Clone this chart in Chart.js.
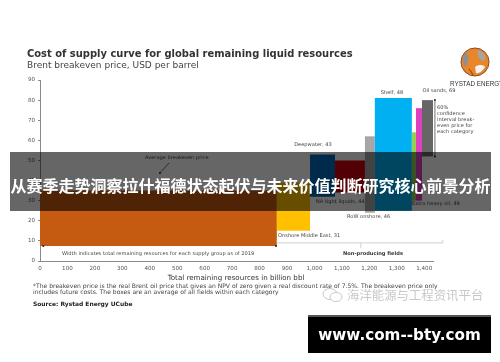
<!DOCTYPE html>
<html lang="en">
<head>
  <meta charset="UTF-8">
  <title>Cost of supply curve</title>
  <style>
    html, body { margin: 0; padding: 0; background: #fff; }
    #page { position: relative; width: 500px; height: 362px; overflow: hidden; }
    #art { position: absolute; left: 0; top: 0; width: 500px; height: 362px; filter: blur(0.35px); }
    canvas { position: absolute; left: 0; top: 0; }
    .t { position: absolute; white-space: nowrap; font-family: "DejaVu Sans", sans-serif; font-size: 5.1px; color: #444; transform: translateY(-50%); line-height: 1; }
    .c { transform: translate(-50%, -50%); }
    #banner { position: absolute; left: 10px; top: 152px; width: 481px; height: 59px; background: rgba(0,0,0,0.6); }
    #bannerText { position: absolute; left: 10px; top: 185px; transform: translateY(-50%); width: 481px; text-align: center; white-space: nowrap; font-family: "Noto Sans CJK SC", sans-serif; font-weight: 700; font-size: 16px; line-height: 1; color: #fff; filter: blur(0.3px); }
    #wm { position: absolute; left: 347px; top: 295px; transform: translateY(-50%); font-family: "Noto Sans CJK SC", sans-serif; font-size: 12.4px; line-height: 1; color: #c9c9c9; white-space: nowrap; }
    #footBox { position: absolute; left: 308px; top: 315px; width: 183px; height: 38px; background: #000; border-top: 2px solid #555; box-sizing: border-box; }
    #footText { position: absolute; left: 308px; top: 336px; width: 183px; text-align: center; transform: translateY(-50%); font-family: "DejaVu Sans", sans-serif; font-weight: 700; font-size: 15.2px; line-height: 1; color: #fff; white-space: nowrap; }
  </style>
  <script src="https://cdn.jsdelivr.net/npm/chart.js"></script>
</head>
<body>
<div id="page">
  <div id="art">
    <canvas id="chart" width="500" height="362"></canvas>

    <div class="t" style="left:27px;top:53.5px;font-size:9.95px;font-weight:700;color:#333">Cost of supply curve for global remaining liquid resources</div>
    <div class="t" style="left:27px;top:64.5px;font-size:9px;color:#444">Brent breakeven price, USD per barrel</div>

    <svg style="position:absolute;left:460px;top:47px" width="30" height="30" viewBox="0 0 30 30">
      <circle cx="15" cy="15" r="14" fill="#e9862a" stroke="#8a4a20" stroke-width="1"/>
      <path d="M6 5 C10 9 9 15 5 20 C2 15 2 9 6 5Z" fill="#8f8f8f"/>
      <path d="M18 3 C24 5 27 10 24 14 C20 13 16 9 18 3Z" fill="#a5a5a5"/>
      <path d="M15 20 C19 17 24 18 25 20 C22 25 18 27 16 26Z" fill="#f4f4f4"/>
      <path d="M9 22 C11 24 12 26 13 28" stroke="#7a3d15" fill="none"/>
    </svg>
    <div class="t" style="left:450px;top:83.5px;font-family:'Liberation Sans',sans-serif;font-size:6.3px;color:#333">RYSTAD ENERGY</div>

    <div class="t c" style="left:392px;top:93px">Shelf, 48</div>
    <div class="t c" style="left:439px;top:91px">Oil sands, 69</div>
    <div class="t c" style="left:313px;top:145px">Deepwater, 43</div>
    <div class="t" style="left:145px;top:158px">Average breakeven price</div>
    <div class="t" style="left:316px;top:202px">NA tight liquids, 44</div>
    <div class="t" style="left:412px;top:204px">Extra heavy oil, 49</div>
    <div class="t" style="left:347px;top:217px">RoW onshore, 46</div>
    <div class="t" style="left:278px;top:236px">Onshore Middle East, 31</div>
    <div class="t" style="left:62px;top:254px">Width indicates total remaining resources for each supply group as of 2019</div>
    <div class="t c" style="left:373px;top:254px;font-weight:700;color:#333">Non-producing fields</div>

    <div class="t" style="left:437px;top:108px">60%</div>
    <div class="t" style="left:437px;top:114px">confidence</div>
    <div class="t" style="left:437px;top:120px">interval break-</div>
    <div class="t" style="left:437px;top:126px">even price for</div>
    <div class="t" style="left:437px;top:132px">each category</div>

    <div class="t c" style="left:236px;top:277.5px;font-size:7.1px;color:#333">Total remaining resources in billion bbl</div>
    <div class="t" style="left:33px;top:285.5px;font-size:6.05px">*The breakeven price is the real Brent oil price that gives an NPV of zero given a real discount rate of 7.5%. The breakeven price only</div>
    <div class="t" style="left:33px;top:292px;font-size:6.05px">includes future costs. The boxes are an average of all fields within each category</div>
    <div class="t" style="left:33px;top:303.5px;font-size:5.95px;font-weight:700;color:#222">Source: Rystad Energy UCube</div>
  </div>

  <div id="banner"></div>
  <div id="bannerText">从赛季走势洞察拉什福德状态起伏与未来价值判断研究核心前景分析</div>

  <svg style="position:absolute;left:322px;top:287px" width="22" height="16" viewBox="0 0 22 16">
    <ellipse cx="8" cy="7" rx="7" ry="5.5" fill="#fff" stroke="#c9c9c9"/>
    <ellipse cx="14" cy="10" rx="6" ry="4.6" fill="#fff" stroke="#c9c9c9"/>
  </svg>
  <div id="wm">海洋能源与工程资讯平台</div>

  <div id="footBox"></div>
  <div id="footText">www.com--bty.com</div>
</div>

<script>
  // billion bbl per supply group, left to right
  const categories = ['Onshore Middle East base', 'Onshore Middle East', 'Deepwater', 'NA tight liquids', 'RoW onshore', 'Shelf', 'Extra heavy oil', 'Pink group', 'Oil sands'];
  const resources = [863, 121, 91, 109, 36, 135, 15, 22, 40];
  const lowPrice = [7.5, 15, 32, 34, 24, 25, 30, 30, 52];
  const highPrice = [35, 39, 53, 50, 62, 81, 64, 76, 80];
  const barColors = ['#c55a11', '#ffc000', '#026ab8', '#d0000a', '#a6a6a6', '#00b0f0', '#92d050', '#e040c0', '#666666'];
  const xTicks = [0, 100, 200, 300, 400, 500, 600, 700, 800, 900, 1000, 1100, 1200, 1300, 1400];
  const yTicks = [0, 10, 20, 30, 40, 50, 60, 70, 80, 90];

  const starts = [];
  let running = 0;
  resources.forEach(r => { starts.push(running); running += r; });

  const tickFont = { family: '"DejaVu Sans", sans-serif', size: 5.6 };

  // bars get their width from the resource volume, not from the category spacing
  const variableWidth = {
    id: 'variableWidth',
    afterDatasetsUpdate(chart) {
      const x = chart.scales.x;
      chart.getDatasetMeta(0).data.forEach((bar, i) => {
        const left = x.getPixelForValue(starts[i]);
        const right = x.getPixelForValue(starts[i] + resources[i]);
        bar.x = (left + right) / 2;
        bar.width = right - left;
      });
    }
  };

  function line(ctx, x1, y1, x2, y2) {
    ctx.beginPath();
    ctx.moveTo(x1, y1);
    ctx.lineTo(x2, y2);
    ctx.stroke();
  }

  function dot(ctx, x, y, r) {
    ctx.beginPath();
    ctx.arc(x, y, r, 0, Math.PI * 2);
    ctx.fill();
  }

  const annotations = {
    id: 'annotations',
    afterDraw(chart) {
      const { ctx, scales: { x, y } } = chart;
      ctx.save();
      ctx.lineWidth = 0.7;
      ctx.strokeStyle = '#333';
      ctx.fillStyle = '#222';

      // average breakeven pointer
      line(ctx, x.getPixelForValue(470), y.getPixelForValue(48.7), x.getPixelForValue(437), y.getPixelForValue(43.8));
      dot(ctx, x.getPixelForValue(437), y.getPixelForValue(43.8), 1);

      // width arrow ends
      dot(ctx, x.getPixelForValue(12), y.getPixelForValue(7.4), 1);
      dot(ctx, x.getPixelForValue(860), y.getPixelForValue(7.4), 1);

      // 60% confidence bracket
      const bx = x.getPixelForValue(1439);
      line(ctx, bx, y.getPixelForValue(80), bx, y.getPixelForValue(52));
      dot(ctx, bx, y.getPixelForValue(80), 1);
      dot(ctx, bx, y.getPixelForValue(52), 1);

      // non-producing bracket
      ctx.strokeStyle = '#bdbdbd';
      const by = y.getPixelForValue(9);
      const bl = x.getPixelForValue(863);
      const br = x.getPixelForValue(1468);
      const bm = x.getPixelForValue(1169);
      line(ctx, bl, by, br, by);
      line(ctx, br, by, br, by - 3);
      line(ctx, bl, by, bl, by - 3);
      line(ctx, bm, by, bm, by + 5);
      ctx.restore();
    }
  };

  new Chart(document.getElementById('chart'), {
    type: 'bar',
    data: {
      labels: categories,
      datasets: [{
        data: categories.map((_, i) => ({ x: starts[i] + resources[i] / 2, y: [lowPrice[i], highPrice[i]] })),
        backgroundColor: barColors,
        borderWidth: 0
      }]
    },
    options: {
      responsive: false,
      animation: false,
      layout: { padding: { left: 0, top: 80, right: 67, bottom: 0 } },
      plugins: { legend: { display: false }, tooltip: { enabled: false } },
      scales: {
        x: {
          type: 'linear',
          offset: false,
          min: 0,
          max: 1432,
          afterBuildTicks: axis => { axis.ticks = xTicks.map(v => ({ value: v })); },
          afterFit: axis => { axis.height = 101; },
          border: { color: '#8a8a8a', width: 1 },
          grid: { drawOnChartArea: false, drawTicks: false },
          ticks: {
            font: tickFont,
            color: '#555',
            padding: 4,
            maxRotation: 0,
            autoSkip: false,
            callback: v => v.toLocaleString('en-US')
          }
        },
        y: {
          min: 0,
          max: 90,
          afterBuildTicks: axis => { axis.ticks = yTicks.map(v => ({ value: v })); },
          afterFit: axis => { axis.width = 40; },
          border: { color: '#8a8a8a', width: 1 },
          grid: { drawOnChartArea: false, tickLength: 2, color: '#8a8a8a' },
          ticks: { font: tickFont, color: '#555', padding: 3 }
        }
      }
    },
    plugins: [variableWidth, annotations]
  });
</script>
</body>
</html>
